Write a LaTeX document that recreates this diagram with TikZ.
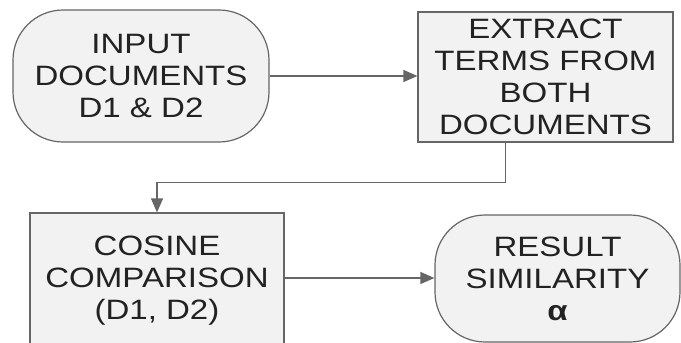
\documentclass[tikz,border=0pt]{standalone}
\usepackage{fontspec}
\setmainfont{Liberation Sans}[FakeStretch=1.18]
\usetikzlibrary{arrows.meta}

\definecolor{edgegray}{HTML}{666666}
\definecolor{fillgray}{HTML}{F2F2F2}
\definecolor{txtgray}{HTML}{222222}

\tikzset{
  stepbox/.style={draw=edgegray, line width=1.2pt, fill=fillgray, text=txtgray,
    align=center, inner sep=0pt, font=\fontsize{28}{32}\selectfont},
  endbox/.style={stepbox, rounded corners=50pt},
  flow/.style={draw=edgegray, line width=1.2pt, -{Triangle[length=14pt,width=12pt]}}
}

\begin{document}
\begin{tikzpicture}[x=1pt,y=-1pt]
    \clip (0,0) rectangle (681,343);
    \fill[white] (0,0) rectangle (681,343);

    % top row
    \node[endbox, minimum width=256pt, minimum height=132pt] (input) at (141,76) {INPUT\\DOCUMENTS\\D1 \& D2};
    \node[stepbox, minimum width=255pt, minimum height=130pt] (extract) at (545.5,77) {EXTRACT\\TERMS FROM\\BOTH\\DOCUMENTS};

    % bottom row
    \node[stepbox, minimum width=254pt, minimum height=136pt] (cosine) at (157,281) {COSINE\\COMPARISON\\(D1, D2)};
    \node[endbox, minimum width=245pt, minimum height=127pt] (result) at (557.5,278.5) {RESULT\\SIMILARITY\\\textbf{α}};

    \draw[flow] (input.east |- 0,76) -- (extract.west |- 0,76);
    \draw[flow] ([xshift=-40pt]extract.south) -- ++(0,40) -| (cosine.north);
    \draw[flow] (cosine.east |- 0,278) -- (result.west |- 0,278);
\end{tikzpicture}
\end{document}
